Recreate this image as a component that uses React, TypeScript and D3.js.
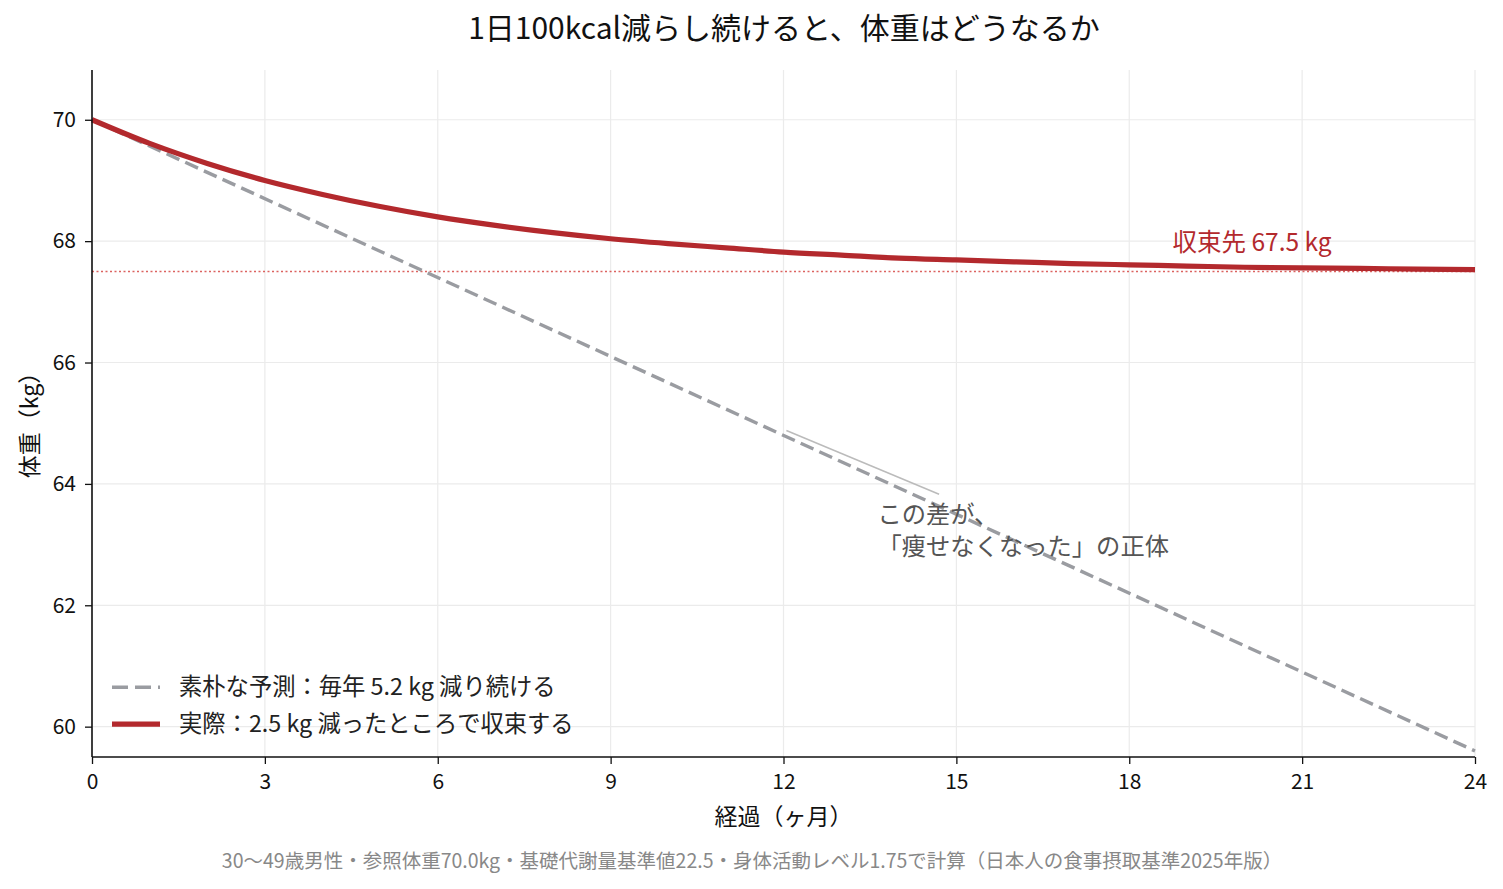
import React, { useEffect, useRef } from "react";
import * as d3 from "d3";

const months = [0, 1, 2, 3, 4, 5, 6, 7, 8, 9, 10, 11, 12, 13, 14, 15, 16, 17, 18, 19, 20, 21, 22, 23, 24];
const actualKg = [70.0, 69.61, 69.28, 69.0, 68.77, 68.57, 68.4, 68.26, 68.14, 68.04, 67.96, 67.89, 67.82, 67.77, 67.72, 67.69, 67.66, 67.63, 67.61, 67.59, 67.57, 67.56, 67.55, 67.54, 67.53];
const naiveMonths = [0, 24];
const naiveKg = [70.0, 59.6];
const plateauKg = 67.5;
const xTicks = [0, 3, 6, 9, 12, 15, 18, 21, 24];
const yTicks = [60, 62, 64, 66, 68, 70];

const title = "1日100kcal減らし続けると、体重はどうなるか";
const xLabel = "経過（ヶ月）";
const yLabel = "体重（kg）";
const footer = "30〜49歳男性・参照体重70.0kg・基礎代謝量基準値22.5・身体活動レベル1.75で計算（日本人の食事摂取基準2025年版）";
const legendLabels = ["素朴な予測：毎年 5.2 kg 減り続ける", "実際：2.5 kg 減ったところで収束する"];
const plateauLabel = "収束先 67.5 kg";
const noteLines = ["この差が、", "「痩せなくなった」の正体"];

const RED = "#B3292D";
const GRAY = "#9A9CA1";
const FONT = "'Noto Sans CJK JP', 'Noto Sans', sans-serif";

export default function App() {
  const ref = useRef<SVGSVGElement | null>(null);

  useEffect(() => {
    const width = 1503, height = 889;
    const margin = { top: 70, right: 28, bottom: 132, left: 92 };
    const w = width - margin.left - margin.right;
    const h = height - margin.top - margin.bottom;

    const svg = d3.select(ref.current);
    svg.selectAll("*").remove();
    svg.attr("width", width).attr("height", height).style("font-family", FONT);
    svg.append("rect").attr("width", width).attr("height", height).attr("fill", "#fff");

    const g = svg.append("g").attr("transform", `translate(${margin.left},${margin.top})`);

    const x = d3.scaleLinear().domain([0, 24]).range([0, w]);
    const y = d3.scaleLinear().domain([59.5, 70.82]).range([h, 0]);

    // grid
    g.selectAll(".vgrid").data(xTicks).enter().append("line")
      .attr("x1", d => x(d)).attr("x2", d => x(d)).attr("y1", 0).attr("y2", h)
      .attr("stroke", "#ebebeb").attr("stroke-width", 1.2);
    g.selectAll(".hgrid").data(yTicks).enter().append("line")
      .attr("x1", 0).attr("x2", w).attr("y1", d => y(d)).attr("y2", d => y(d))
      .attr("stroke", "#ebebeb").attr("stroke-width", 1.2);

    // plateau dotted
    g.append("line").attr("x1", 0).attr("x2", w).attr("y1", y(plateauKg)).attr("y2", y(plateauKg))
      .attr("stroke", "#D9534F").attr("stroke-width", 1.4).attr("stroke-dasharray", "2,2.5").attr("opacity", 0.9);

    // naive dashed line
    const naive = naiveMonths.map((m, i) => ({ m, v: naiveKg[i] }));
    const line = d3.line<any>().x(d => x(d.m)).y(d => y(d.v));
    g.append("path").datum(naive).attr("d", line as any).attr("fill", "none")
      .attr("stroke", GRAY).attr("stroke-width", 3.4).attr("stroke-dasharray", "14,6.5");

    // actual curve
    const actual = months.map((m, i) => ({ m, v: actualKg[i] }));
    const curve = d3.line<any>().x(d => x(d.m)).y(d => y(d.v)).curve(d3.curveMonotoneX);
    g.append("path").datum(actual).attr("d", curve as any).attr("fill", "none")
      .attr("stroke", RED).attr("stroke-width", 5.2).attr("stroke-linecap", "butt");

    // axes
    const ax = g.append("g").attr("transform", `translate(0,${h})`)
      .call(d3.axisBottom(x).tickValues(xTicks).tickSize(7).tickPadding(10).tickFormat(d3.format("d")));
    const ay = g.append("g")
      .call(d3.axisLeft(y).tickValues(yTicks).tickSize(7).tickPadding(9).tickFormat(d3.format("d")));
    [ax, ay].forEach(a => {
      a.select(".domain").attr("stroke", "#111").attr("stroke-width", 1.6);
      a.selectAll(".tick line").attr("stroke", "#111").attr("stroke-width", 1.3);
      a.selectAll(".tick text").attr("fill", "#111").style("font-size", "21px").style("font-family", FONT);
    });
    ay.select(".domain").attr("d", `M-0,${h}V0`);
    ax.select(".domain").attr("d", `M0,0H${w}`);

    // annotation
    g.append("line").attr("x1", x(14.7)).attr("y1", y(63.83)).attr("x2", x(12.05)).attr("y2", y(64.88))
      .attr("stroke", "#bbbbbb").attr("stroke-width", 1.5);
    const note = g.append("text").attr("x", x(13.63)).attr("y", y(63.35))
      .attr("fill", "#555").style("font-size", "24.3px");
    noteLines.forEach((t, i) => {
      note.append("tspan").attr("x", x(13.63)).attr("dy", i === 0 ? 0 : 32).text(t);
    });

    g.append("text").attr("x", x(18.75)).attr("y", y(67.83)).attr("fill", RED)
      .style("font-size", "24.5px").text(plateauLabel);

    // legend
    const leg = g.append("g").attr("transform", `translate(20,${y(60.65)})`);
    legendLabels.forEach((t, i) => {
      const row = leg.append("g").attr("transform", `translate(0,${i * 37})`);
      row.append("line").attr("x1", 0).attr("x2", 48).attr("y1", 0).attr("y2", 0)
        .attr("stroke", i === 0 ? GRAY : RED).attr("stroke-width", i === 0 ? 3.4 : 5.2)
        .attr("stroke-dasharray", i === 0 ? "16,7" : null);
      row.append("text").attr("x", 67).attr("y", 8).attr("fill", "#222")
        .style("font-size", "23.3px").text(t);
    });

    // labels
    svg.append("text").attr("x", margin.left + w / 2).attr("y", 825).attr("text-anchor", "middle")
      .attr("fill", "#111").style("font-size", "23px").text(xLabel);
    svg.append("text").attr("transform", `translate(38,${margin.top + h / 2 + 6}) rotate(-90)`)
      .attr("text-anchor", "middle").attr("fill", "#111").style("font-size", "23px").text(yLabel);
    svg.append("text").attr("x", 784).attr("y", 39).attr("text-anchor", "middle")
      .attr("fill", "#111").style("font-size", "30px").text(title);
    svg.append("text").attr("x", 752).attr("y", 868).attr("text-anchor", "middle")
      .attr("fill", "#888").style("font-size", "19.5px").text(footer);
  }, []);

  return (
    <div style={{ position: "absolute", left: 0, top: 0 }}>
      <svg ref={ref} />
    </div>
  );
}
